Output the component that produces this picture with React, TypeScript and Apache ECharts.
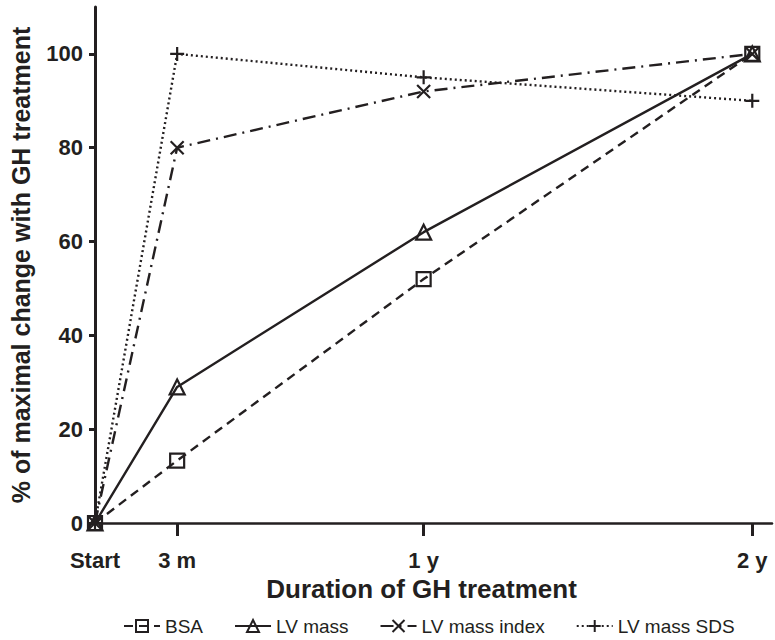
import React, { useEffect, useRef } from "react";
import * as echarts from "echarts";

// Time points in years since the start of GH treatment
const timePoints = [0, 0.25, 1, 2];
const xTickValues = [0, 0.25, 1, 2];
const xTickLabels = ["Start", "3 m", "1 y", "2 y"];
const yTickValues = [0, 20, 40, 60, 80, 100];

// % of maximal change at each time point
const bsa = [0, 13.3, 52, 100];
const lvMass = [0, 29, 62, 100];
const lvMassIndex = [0, 80, 92, 100];
const lvMassSds = [0, 100, 95, 90];

const seriesNames = ["BSA", "LV mass", "LV mass index", "LV mass SDS"];

const INK = "#231f20";
const CROSS = "path://M0 0 L10 10 M10 0 L0 10";
const PLUS = "path://M5 0 L5 10 M0 5 L10 5";

const pairs = (ys: number[]) => timePoints.map((t, i) => [t, ys[i]]);

export default function App() {
  const ref = useRef<HTMLDivElement>(null);

  useEffect(() => {
    if (!ref.current) return;
    const chart = echarts.init(ref.current, null, { renderer: "svg" });

    const baseSeries = (
      name: string,
      data: number[],
      dash: any,
      symbol: string,
      symbolSize: number
    ) => ({
      name,
      type: "line",
      data: pairs(data),
      clip: false,
      symbol,
      symbolSize,
      showAllSymbol: true,
      lineStyle: { color: INK, width: 2.4, type: dash },
      itemStyle: { color: "transparent", borderColor: INK, borderWidth: 2.2 },
      emphasis: { disabled: true },
    });

    chart.setOption({
      animation: false,
      backgroundColor: "#ffffff",
      grid: { left: 95, right: 3, top: 7, bottom: 117, containLabel: false },
      legend: {
        data: seriesNames,
        left: 118,
        top: 611,
        itemWidth: 36,
        itemHeight: 15,
        itemGap: 31,
        textStyle: {
          color: INK,
          fontFamily: "'Liberation Sans', Arial, sans-serif",
          fontSize: 19,
          lineHeight: 20,
        },
      },
      xAxis: {
        type: "value",
        min: 0,
        max: 2.06,
        name: "Duration of GH treatment",
        nameLocation: "middle",
        nameGap: 50,
        nameTextStyle: {
          color: INK,
          fontFamily: "'Liberation Sans', Arial, sans-serif",
          fontWeight: "bold",
          fontSize: 26,
          padding: [0, 24, 0, 0],
        },
        axisLine: { show: true, lineStyle: { color: INK, width: 2.5 } },
        axisTick: {
          show: true,
          customValues: [0.25, 1, 2],
          length: 13,
          lineStyle: { color: INK, width: 3 },
        },
        axisLabel: {
          customValues: xTickValues,
          formatter: (v: number) => {
            const i = xTickValues.findIndex((t) => Math.abs(t - v) < 1e-6);
            return i >= 0 ? xTickLabels[i] : "";
          },
          margin: 26,
          color: INK,
          fontFamily: "'Liberation Sans', Arial, sans-serif",
          fontWeight: "bold",
          fontSize: 22,
        },
        splitLine: { show: false },
      },
      yAxis: {
        type: "value",
        min: 0,
        max: 110,
        name: "% of maximal change with GH treatment",
        nameLocation: "middle",
        nameGap: 62,
        nameTextStyle: {
          color: INK,
          fontFamily: "'Liberation Sans', Arial, sans-serif",
          fontWeight: "bold",
          fontSize: 25,
        },
        axisLine: { show: true, lineStyle: { color: INK, width: 3 } },
        axisTick: {
          show: true,
          customValues: yTickValues,
          length: 6,
          lineStyle: { color: INK, width: 3 },
        },
        axisLabel: {
          customValues: yTickValues,
          margin: 12,
          color: INK,
          fontFamily: "'Liberation Sans', Arial, sans-serif",
          fontWeight: "bold",
          fontSize: 22,
        },
        splitLine: { show: false },
      },
      series: [
        baseSeries(seriesNames[0], bsa, [9, 6], "rect", 14),
        baseSeries(seriesNames[1], lvMass, "solid", "triangle", 15),
        baseSeries(seriesNames[2], lvMassIndex, [13, 6, 2, 6], CROSS, 13),
        baseSeries(seriesNames[3], lvMassSds, [2, 3], PLUS, 14),
      ],
    });

    return () => chart.dispose();
  }, []);

  return <div ref={ref} style={{ width: 775, height: 640, position: "absolute", left: 0, top: 0 }} />;
}
